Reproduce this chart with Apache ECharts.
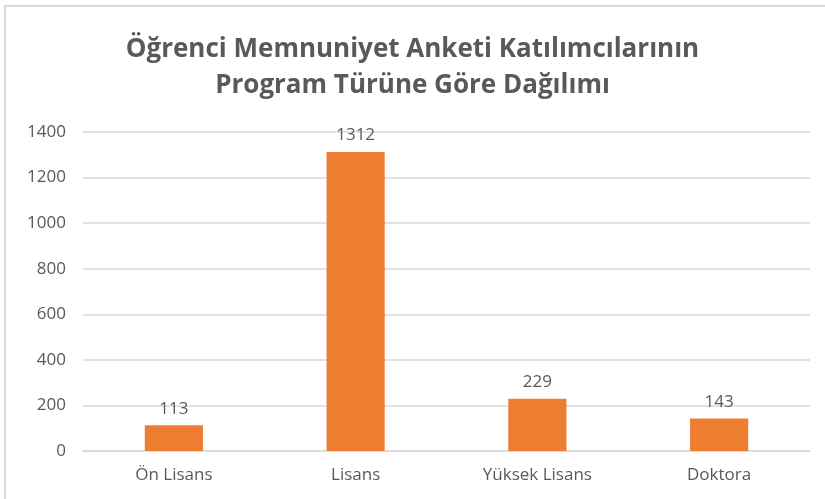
<!DOCTYPE html>
<html>
<head>
  <meta charset="utf-8">
  <title>Program Türüne Göre Dağılım</title>
  <script src="https://cdn.jsdelivr.net/npm/echarts@6/dist/echarts.min.js"></script>
  <style>
    html, body { margin: 0; padding: 0; background: #fff; }
    #frame {
      position: absolute; left: 4px; top: 5px; width: 821px; height: 494px;
      border-top: 2px solid #d9d9d9; border-left: 2px solid #d9d9d9;
      box-sizing: border-box;
    }
    #chart { position: absolute; left: 0; top: 0; width: 825px; height: 499px; }
  </style>
</head>
<body>
  <div id="frame"></div>
  <div id="chart"></div>
  <script>
    // veriler
    const programlar = ['Ön Lisans', 'Lisans', 'Yüksek Lisans', 'Doktora'];
    const katilimci = [113, 1312, 229, 143];

    const yaziRengi = '#595959';
    const font = '"Open Sans", "DejaVu Sans", sans-serif';

    let myChart = echarts.init(document.getElementById('chart'));
    let option = {
      animation: false,
      title: {
        text: 'Öğrenci Memnuniyet Anketi Katılımcılarının\nProgram Türüne Göre Dağılımı',
        left: 'center',
        top: 27,
        padding: [5, 5, 5, 27], // başlığı biraz sağa kaydır
        textStyle: {
          color: yaziRengi,
          fontFamily: font,
          fontSize: 26,
          fontWeight: 'bold',
          lineHeight: 36
        }
      },
      grid: { left: 83, right: 15, top: 132, bottom: 48, containLabel: false },
      xAxis: {
        type: 'category',
        data: programlar,
        axisTick: { show: false },
        axisLine: { lineStyle: { color: '#d9d9d9', width: 1.5 } },
        axisLabel: { color: yaziRengi, fontFamily: font, fontSize: 17, margin: 16 }
      },
      yAxis: {
        type: 'value',
        min: 0,
        max: 1400,
        interval: 200,
        axisLine: { show: false },
        axisTick: { show: false },
        splitLine: { lineStyle: { color: '#d9d9d9', width: 1.5 } },
        axisLabel: {
          color: yaziRengi, fontFamily: font, fontSize: 17, margin: 17,
          formatter: function (v) { return String(v); }
        }
      },
      series: [
        {
          type: 'bar',
          data: katilimci,
          barWidth: '32%',
          itemStyle: { color: '#ED7D31' },
          label: {
            show: true,
            position: 'top',
            distance: 8,
            color: yaziRengi,
            fontFamily: font,
            fontSize: 17
          }
        }
      ]
    };
    myChart.setOption(option);
  </script>
</body>
</html>
